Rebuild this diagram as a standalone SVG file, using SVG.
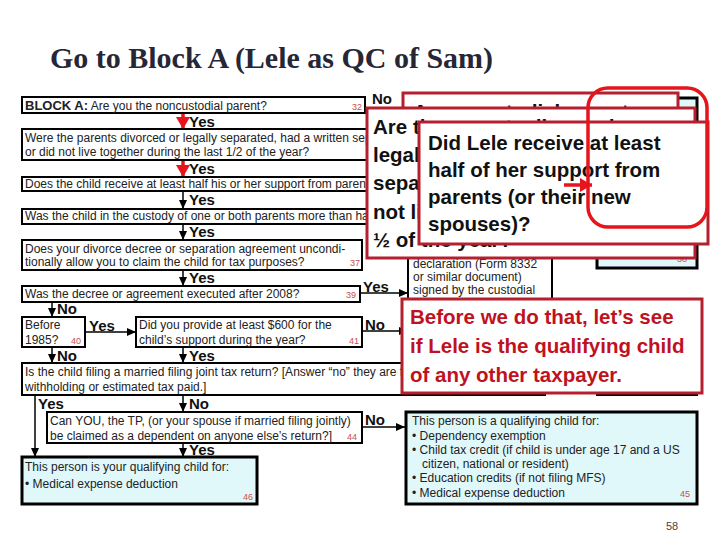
<svg xmlns="http://www.w3.org/2000/svg" width="720" height="540" viewBox="0 0 720 540">
<style>
.box{fill:#fff;stroke:#000;stroke-width:2}
.qc{fill:#e1f8fa;stroke:#000;stroke-width:3}
.t{font-family:"Liberation Sans",Arial,sans-serif;font-size:12px;fill:#222}
.lbl{font-family:"Liberation Sans",Arial,sans-serif;font-size:15px;font-weight:bold;fill:#111}
.num{font-family:"Liberation Sans",Arial,sans-serif;font-size:9px;fill:#c65050}
.call{fill:#fff;stroke:#b5202e;stroke-width:3}
.ct{font-family:"Liberation Sans",Arial,sans-serif;font-weight:bold;font-size:20.5px;fill:#111}
.rt{font-family:"Liberation Sans",Arial,sans-serif;font-weight:bold;font-size:20.5px;fill:#c0121e}
.ln{stroke:#000;stroke-width:1.5;fill:none}
.rln{stroke:#e8141c;stroke-width:3.5;fill:none}
</style>
<defs>
<marker id="ah" markerUnits="userSpaceOnUse" markerWidth="9" markerHeight="8" refX="9" refY="4" orient="auto"><path d="M0,0 L9,4 L0,8 z" fill="#000"/></marker>
<marker id="rh" markerUnits="userSpaceOnUse" markerWidth="12" markerHeight="14" refX="12" refY="7" orient="auto"><path d="M0,0 L12,7 L0,14 z" fill="#e8141c"/></marker>
</defs>
<rect width="720" height="540" fill="#fff"/>
<text x="50" y="68" font-family="'Liberation Serif',serif" font-weight="bold" font-size="28.5" fill="#262636" textLength="443" lengthAdjust="spacingAndGlyphs">Go to Block A (Lele as QC of Sam)</text>

<g id="connectors">
<line class="rln" x1="183" y1="113" x2="183" y2="129" marker-end="url(#rh)"/>
<line class="rln" x1="183" y1="160" x2="183" y2="177" marker-end="url(#rh)"/>
<line class="ln" x1="183" y1="191" x2="183" y2="209" marker-end="url(#ah)"/>
<line class="ln" x1="183" y1="224" x2="183" y2="240" marker-end="url(#ah)"/>
<line class="ln" x1="183" y1="270" x2="183" y2="286" marker-end="url(#ah)"/>
<line class="ln" x1="52" y1="302" x2="52" y2="317" marker-end="url(#ah)"/>
<line class="ln" x1="360" y1="293" x2="408" y2="293" marker-end="url(#ah)"/>
<line class="ln" x1="85" y1="332" x2="136" y2="332" marker-end="url(#ah)"/>
<line class="ln" x1="362" y1="331" x2="408" y2="331" marker-end="url(#ah)"/>
<line class="ln" x1="52" y1="347" x2="52" y2="363" marker-end="url(#ah)"/>
<line class="ln" x1="183" y1="347" x2="183" y2="363" marker-end="url(#ah)"/>
<line class="ln" x1="35" y1="395" x2="35" y2="457" marker-end="url(#ah)"/>
<line class="ln" x1="183" y1="395" x2="183" y2="412" marker-end="url(#ah)"/>
<line class="ln" x1="362" y1="427" x2="405" y2="427" marker-end="url(#ah)"/>
<line class="ln" x1="183" y1="443" x2="183" y2="457" marker-end="url(#ah)"/>
<text class="lbl" x="372" y="104">No</text>
<text class="lbl" x="189" y="127">Yes</text>
<text class="lbl" x="189" y="174">Yes</text>
<text class="lbl" x="189" y="205">Yes</text>
<text class="lbl" x="189" y="237">Yes</text>
<text class="lbl" x="189" y="283">Yes</text>
<text class="lbl" x="363" y="292">Yes</text>
<text class="lbl" x="57" y="314">No</text>
<text class="lbl" x="89" y="331">Yes</text>
<text class="lbl" x="365" y="330">No</text>
<text class="lbl" x="57" y="361">No</text>
<text class="lbl" x="189" y="361">Yes</text>
<text class="lbl" x="38" y="409">Yes</text>
<text class="lbl" x="189" y="409">No</text>
<text class="lbl" x="365" y="425">No</text>
<text class="lbl" x="189" y="455">Yes</text>
</g>

<g id="n1"><rect class="box" x="22" y="97" width="343" height="16"/>
<text class="t" x="25" y="110"><tspan font-weight="bold" font-size="13">BLOCK A:</tspan> Are you the noncustodial parent?</text><text class="num" x="352" y="110">32</text></g>
<g id="n2"><rect class="box" x="22" y="129" width="523" height="31"/>
<text class="t" x="25" y="142">Were the parents divorced or legally separated, had a written separation agreement,</text><text class="t" x="25" y="156">or did not live together during the last 1/2 of the year?</text></g>
<g id="n3"><rect class="box" x="22" y="177" width="523" height="14"/>
<text class="t" x="25" y="188">Does the child receive at least half his or her support from parents?</text></g>
<g id="n4"><rect class="box" x="22" y="209" width="523" height="15"/>
<text class="t" x="25" y="220">Was the child in the custody of one or both parents more than half the year?</text></g>
<g id="n5"><rect class="box" x="22" y="240" width="340" height="30"/>
<text class="t" x="25" y="253">Does your divorce decree or separation agreement uncondi-</text><text class="t" x="25" y="266">tionally allow you to claim the child for tax purposes?</text><text class="num" x="350" y="266">37</text></g>
<g id="n6"><rect class="box" x="22" y="286" width="338" height="16"/>
<text class="t" x="25" y="298">Was the decree or agreement executed after 2008?</text><text class="num" x="346" y="298">39</text></g>
<g id="n7"><rect class="box" x="22" y="317" width="63" height="30"/>
<text class="t" x="25" y="329">Before</text><text class="t" x="25" y="344">1985?</text><text class="num" x="71" y="344">40</text></g>
<g id="n8"><rect class="box" x="136" y="317" width="226" height="30"/>
<text class="t" x="139" y="329">Did you provide at least $600 for the</text><text class="t" x="139" y="344">child’s support during the year?</text><text class="num" x="349" y="344">41</text></g>
<g id="n9"><rect class="box" x="22" y="363" width="523" height="32"/>
<text class="t" x="25" y="376">Is the child filing a married filing joint tax return? [Answer “no” they are filing only to claim</text><text class="t" x="25" y="391">withholding or estimated tax paid.]</text></g>
<g id="n10"><rect class="box" x="47" y="412" width="315" height="31"/>
<text class="t" x="50" y="425">Can YOU, the TP, (or your spouse if married filing jointly)</text><text class="t" x="50" y="440">be claimed as a dependent on anyone else’s return?]</text><text class="num" x="347" y="440">44</text></g>
<g id="n11"><rect class="qc" x="22" y="457" width="235" height="47"/>
<text class="t" x="25" y="471" font-size="13.3">This person is your qualifying child for:</text><text class="t" x="25" y="488" font-size="13.3">•  Medical expense deduction</text><text class="num" x="243" y="500">46</text></g>
<g id="n12"><rect class="qc" x="406" y="412" width="291" height="92"/>
<text class="t" x="412" y="425" font-size="12.5">This person is a qualifying child for:</text>
<text class="t" x="412" y="440" font-size="12.5">•  Dependency exemption</text>
<text class="t" x="412" y="454" font-size="12.5">•  Child tax credit (if child is under age 17 and a US</text>
<text class="t" x="422" y="468" font-size="12.5">citizen, national or resident)</text>
<text class="t" x="412" y="482" font-size="12.5">•  Education credits (if not filing MFS)</text>
<text class="t" x="412" y="497" font-size="12.5">•  Medical expense deduction</text><text class="num" x="680" y="497">45</text></g>
<g id="n13"><rect class="box" x="408" y="100" width="144" height="250"/>
<text class="t" x="413" y="268" font-size="13">declaration (Form 8332</text><text class="t" x="413" y="281" font-size="13">or similar document)</text><text class="t" x="413" y="294" font-size="13">signed by the custodial</text></g>
<g id="n14"><rect class="qc" x="597" y="98" width="100" height="170"/><text class="num" x="677" y="262">38</text></g>
<g id="n15"><rect class="box" x="597" y="305" width="100" height="90"/></g>

<g id="callout1"><rect class="call" x="403" y="93" width="275" height="150"/>
<text class="ct" x="413" y="119">A noncustodial parent</text></g>
<g id="callout2"><rect class="call" x="367" y="108" width="328" height="150"/>
<text class="ct" x="373" y="134">Are the parents divorced or</text>
<text class="ct" x="373" y="162">legally or formally</text>
<text class="ct" x="373" y="190">separated, or did they</text>
<text class="ct" x="373" y="219">not live together the last</text>
<text class="ct" x="373" y="247">½ of the year?</text></g>
<g id="callout3"><rect class="call" x="419" y="122" width="289" height="122"/>
<text class="ct" x="428" y="150">Did Lele receive at least</text>
<text class="ct" x="428" y="177">half of her support from</text>
<text class="ct" x="428" y="204">parents (or their new</text>
<text class="ct" x="428" y="231">spouses)?</text></g>
<g id="highlight"><rect x="588" y="88" width="119" height="139" rx="20" fill="none" stroke="#e8141c" stroke-width="3.5"/>
<line class="rln" x1="564" y1="185" x2="592" y2="185" marker-end="url(#rh)"/></g>
<g id="callout4"><rect class="call" x="402" y="299" width="300" height="94"/>
<text class="rt" x="410" y="324">Before we do that, let’s see</text>
<text class="rt" x="410" y="353">if Lele is the qualifying child</text>
<text class="rt" x="410" y="382">of any other taxpayer.</text></g>
<text x="666" y="530" font-family="'Liberation Sans',Arial,sans-serif" font-size="11" fill="#444">58</text>
</svg>
